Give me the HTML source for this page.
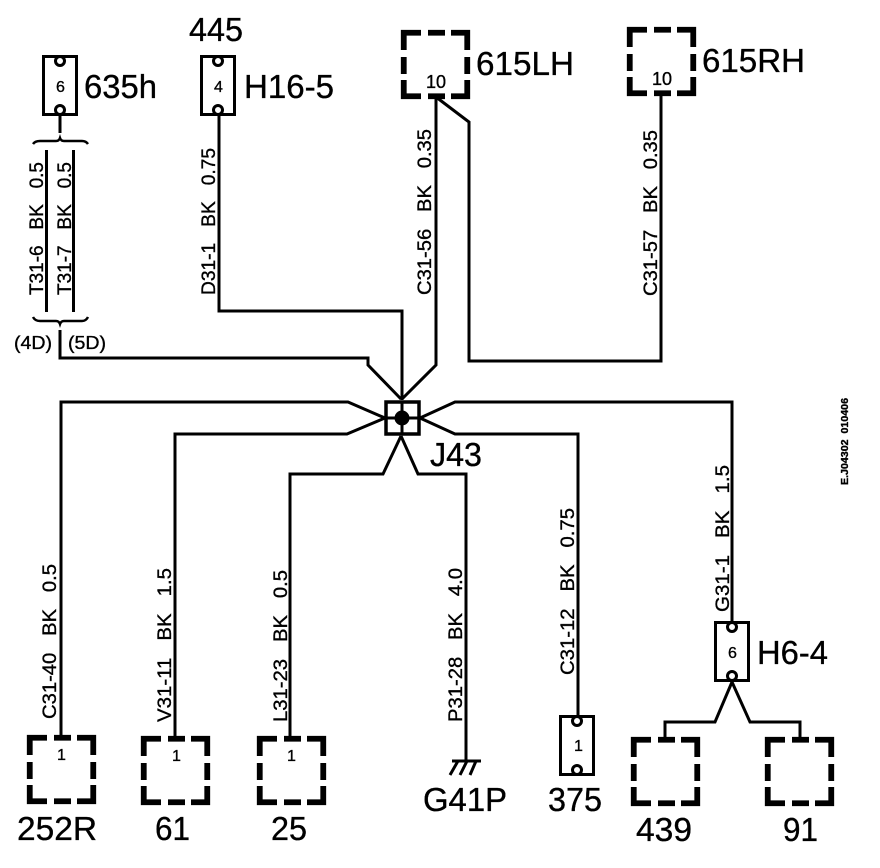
<!DOCTYPE html>
<html><head><meta charset="utf-8"><style>
html,body{margin:0;padding:0;background:#fff}
svg{display:block}
text{font-family:"Liberation Sans",Arial,sans-serif;fill:#000;stroke:#000;stroke-width:.35px;white-space:pre}
.w{font-size:19px}
.l{font-size:33px}
.p{font-size:16px}
</style></head><body>
<svg width="880" height="868" viewBox="0 0 880 868" xmlns="http://www.w3.org/2000/svg">
<defs>
<path id="d" d="M2.75,20V2.75H20M27,2.75H44M50,2.75H66.25V20M2.75,27V44M66.25,27V44M2.75,50V66.25H20M27,66.25H44M50,66.25H66.25V50" fill="none" stroke="#000" stroke-width="5.800"/>
<g id="c"><rect x="1.5" y="1.5" width="33" height="58" fill="#fff" stroke="#000" stroke-width="3"/><circle cx="18" cy="6" r="4.5" fill="#fff" stroke="#000" stroke-width="3"/><circle cx="18" cy="55" r="4.5" fill="#fff" stroke="#000" stroke-width="3"/></g>
</defs>
<g fill="none" stroke="#000" stroke-width="3">
<path d="M60,116V133"/>
<path d="M33,144Q35,141 40,141H56Q59,141 60,138Q61,141 64,141H82Q86,141 88,144" stroke-width="2.500"/>
<path d="M46.500,150V312M73.500,150V312"/>
<path d="M33,317Q35,321 40,321H56Q59,321 60,324Q61,321 64,321H82Q86,321 88,317" stroke-width="2.500"/>
<path d="M60,330V358H368V365L401,399"/>
<path d="M219,116V311H402V400"/>
<path d="M436,97V365L402,399"/>
<path d="M436,97L469,122V361H661V95"/>
<path d="M61,735V402H348L385,418"/>
<path d="M175,736V434H347L385,418"/>
<path d="M290,736V474H383L401,436"/>
<path d="M401,436L418,474H466V761"/>
<path d="M420,418L455,402H732V622"/>
<path d="M420,418L455,434H578V716"/>
<path d="M732,682L715,722H665V738"/>
<path d="M732,682L750,722H800V738"/>
<path d="M452,761H481M458,761L450,775M467,761L460,775M476,761L470,775" stroke-width="3"/>
</g>
<use href="#c" x="42" y="55"/>
<use href="#c" x="200" y="55"/>
<use href="#c" x="559" y="715"/>
<use href="#c" x="714" y="621"/>
<use href="#d" x="401" y="30"/>
<use href="#d" x="627" y="27"/>
<use href="#d" x="27" y="735"/>
<use href="#d" x="141" y="736"/>
<use href="#d" x="257" y="736"/>
<use href="#d" x="631" y="737"/>
<use href="#d" x="765" y="737"/>
<rect x="386" y="402" width="33" height="32" fill="#fff" stroke="#000" stroke-width="3.500"/>
<path d="M386,418H419M402,402V434" stroke="#000" stroke-width="3"/>
<circle cx="402" cy="418" r="7.500" fill="#000"/>
<text class="l" x="84" y="98" textLength="73" lengthAdjust="spacingAndGlyphs">635h</text>
<text class="l" x="189" y="41" textLength="54" lengthAdjust="spacingAndGlyphs">445</text>
<text class="l" x="244" y="98" textLength="90" lengthAdjust="spacingAndGlyphs">H16-5</text>
<text class="l" x="476" y="75" textLength="98" lengthAdjust="spacingAndGlyphs">615LH</text>
<text class="l" x="702" y="72" textLength="103" lengthAdjust="spacingAndGlyphs">615RH</text>
<text class="l" x="430" y="466" textLength="52" lengthAdjust="spacingAndGlyphs">J43</text>
<text class="l" x="757" y="664" textLength="71" lengthAdjust="spacingAndGlyphs">H6-4</text>
<text class="l" x="17" y="840" textLength="80" lengthAdjust="spacingAndGlyphs">252R</text>
<text class="l" x="155" y="840" textLength="35" lengthAdjust="spacingAndGlyphs">61</text>
<text class="l" x="271" y="840" textLength="36" lengthAdjust="spacingAndGlyphs">25</text>
<text class="l" x="423" y="811" textLength="84" lengthAdjust="spacingAndGlyphs">G41P</text>
<text class="l" x="548" y="811" textLength="54" lengthAdjust="spacingAndGlyphs">375</text>
<text class="l" x="636" y="841" textLength="56" lengthAdjust="spacingAndGlyphs">439</text>
<text class="l" x="783" y="841" textLength="35" lengthAdjust="spacingAndGlyphs">91</text>
<text class="p" x="56" y="92">6</text>
<text class="p" x="214" y="92">4</text>
<text x="426" y="88" font-size="18" textLength="20" lengthAdjust="spacingAndGlyphs">10</text>
<text x="652" y="85" font-size="18" textLength="20" lengthAdjust="spacingAndGlyphs">10</text>
<text class="p" x="57" y="760">1</text>
<text class="p" x="172" y="761">1</text>
<text class="p" x="287" y="761">1</text>
<text class="p" x="574" y="751">1</text>
<text class="p" x="728" y="658">6</text>
<text x="14" y="349" font-size="18" textLength="38" lengthAdjust="spacingAndGlyphs">(4D)</text>
<text x="68" y="349" font-size="18" textLength="38" lengthAdjust="spacingAndGlyphs">(5D)</text>
<text class="w" transform="translate(43,295) rotate(-90)" textLength="133" lengthAdjust="spacingAndGlyphs">T31-6   BK   0.5</text>
<text class="w" transform="translate(71,295) rotate(-90)" textLength="133" lengthAdjust="spacingAndGlyphs">T31-7   BK   0.5</text>
<text class="w" transform="translate(215,295) rotate(-90)" textLength="147" lengthAdjust="spacingAndGlyphs">D31-1   BK   0.75</text>
<text class="w" transform="translate(431,295) rotate(-90)" textLength="166" lengthAdjust="spacingAndGlyphs">C31-56   BK   0.35</text>
<text class="w" transform="translate(657,296) rotate(-90)" textLength="166" lengthAdjust="spacingAndGlyphs">C31-57   BK   0.35</text>
<text class="w" transform="translate(56,719) rotate(-90)" textLength="155" lengthAdjust="spacingAndGlyphs">C31-40   BK   0.5</text>
<text class="w" transform="translate(171,722) rotate(-90)" textLength="154" lengthAdjust="spacingAndGlyphs">V31-11   BK   1.5</text>
<text class="w" transform="translate(287,722) rotate(-90)" textLength="152" lengthAdjust="spacingAndGlyphs">L31-23   BK   0.5</text>
<text class="w" transform="translate(462,722) rotate(-90)" textLength="154" lengthAdjust="spacingAndGlyphs">P31-28   BK   4.0</text>
<text class="w" transform="translate(574,675) rotate(-90)" textLength="167" lengthAdjust="spacingAndGlyphs">C31-12   BK   0.75</text>
<text class="w" transform="translate(729,612) rotate(-90)" textLength="147" lengthAdjust="spacingAndGlyphs">G31-1   BK   1.5</text>
<text transform="translate(848,485) rotate(-90)" font-size="10" font-weight="bold" textLength="87" lengthAdjust="spacingAndGlyphs">E.J04302  010406</text>
</svg>
</body></html>
